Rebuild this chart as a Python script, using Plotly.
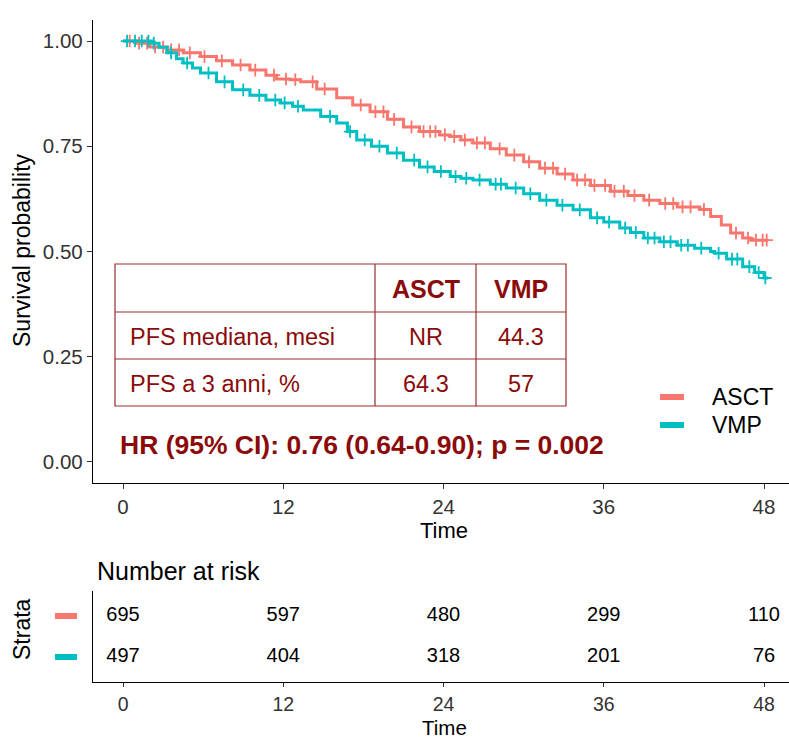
import numpy as np
import plotly.graph_objects as go

# ---------------- data ----------------
arms = ["ASCT", "VMP"]
colors = {"ASCT": "#F8766D", "VMP": "#00BFC4"}

asct_t = [0, 1.0, 2.0, 3.3, 4.5, 5.8, 7.0, 8.2, 9.5, 10.7, 11.5, 12.5, 13.3, 14.5, 16.0, 17.2,
          18.5, 19.8, 21.0, 22.2, 23.7, 24.5, 25.3, 26.2, 27.5, 28.7, 30.0, 31.2, 32.5, 33.7,
          35.0, 36.5, 37.8, 39.0, 40.2, 41.5, 43.2, 44.0, 44.8, 45.5, 46.4, 47.0, 48.3]
asct_s = [1.000, 0.995, 0.986, 0.979, 0.972, 0.963, 0.953, 0.943, 0.931, 0.919, 0.910, 0.908,
          0.903, 0.886, 0.865, 0.848, 0.832, 0.814, 0.796, 0.785, 0.777, 0.773, 0.765, 0.758,
          0.744, 0.729, 0.713, 0.698, 0.684, 0.670, 0.657, 0.643, 0.633, 0.622, 0.614, 0.606,
          0.600, 0.583, 0.563, 0.544, 0.532, 0.527, 0.527]

vmp_t = [0, 2.2, 2.7, 3.3, 4.0, 4.5, 5.2, 5.8, 7.0, 8.2, 9.5, 10.7, 11.8, 12.7, 13.5, 14.8,
         16.0, 16.8, 17.5, 18.6, 19.8, 21.0, 22.2, 23.3, 24.5, 25.3, 26.2, 27.5, 28.7, 30.0,
         31.2, 32.5, 33.7, 35.0, 36.0, 37.2, 38.0, 39.0, 40.2, 41.5, 42.8, 44.0, 44.3, 45.2,
         46.4, 47.3, 48.0, 48.3]
vmp_s = [1.000, 0.995, 0.985, 0.972, 0.958, 0.948, 0.936, 0.924, 0.903, 0.884, 0.871, 0.860,
         0.853, 0.845, 0.836, 0.821, 0.805, 0.785, 0.765, 0.750, 0.734, 0.717, 0.701, 0.690,
         0.678, 0.674, 0.670, 0.660, 0.651, 0.637, 0.622, 0.610, 0.599, 0.580, 0.570, 0.556,
         0.545, 0.532, 0.523, 0.515, 0.508, 0.500, 0.496, 0.482, 0.464, 0.450, 0.437, 0.437]

asct_cens = [0.5, 1.2, 1.8, 2.4, 3.0, 3.6, 4.2, 5.0, 6.1, 7.4, 8.8, 9.9, 11.3, 12.2, 12.9, 14.2,
             15.1, 17.8, 18.9, 19.5, 20.3, 21.6, 22.5, 23.0, 23.4, 24.1, 24.8, 25.6, 26.5, 27.1,
             28.2, 29.3, 30.4, 31.6, 32.2, 33.1, 34.0, 34.6, 35.3, 36.1, 36.8, 37.5, 38.3, 39.4,
             40.6, 41.2, 41.9, 42.5, 43.5, 45.9, 46.8, 47.4, 47.9, 48.2]
vmp_cens = [0.3, 0.9, 1.4, 1.9, 2.3, 3.6, 4.8, 6.4, 7.6, 9.0, 10.2, 11.4, 12.1, 13.1, 15.5, 17.0,
            18.1, 19.2, 20.5, 21.8, 22.8, 23.8, 24.9, 25.7, 26.7, 27.9, 28.3, 29.4, 30.5, 31.7,
            32.9, 34.2, 35.5, 36.4, 37.6, 38.4, 39.3, 39.8, 40.5, 41.0, 41.8, 42.3, 43.3, 44.6,
            45.6, 46.0, 46.9, 47.6, 48.1]

risk_times = [0, 12, 24, 36, 48]
risk_asct = [695, 597, 480, 299, 110]
risk_vmp = [497, 404, 318, 201, 76]

x_ticks = [0, 12, 24, 36, 48]
y_ticks = [0, 0.25, 0.5, 0.75, 1.0]
y_ticktext = ["0.00", "0.25", "0.50", "0.75", "1.00"]

tbl_header = ["", "ASCT", "VMP"]
tbl_rows = [["PFS mediana, mesi", "NR", "44.3"],
            ["PFS a 3 anni, %", "64.3", "57"]]
hr_text = "HR (95% CI): 0.76 (0.64-0.90); p = 0.002"

# ---------------- figure ----------------
W, H = 789, 740
FONT = "Liberation Sans, Arial, sans-serif"
RED = "#8B0A0A"


def px(x):
    return x / W


def py(y):
    return 1 - y / H


def step_at(ts, ss, t):
    ts = np.asarray(ts)
    ss = np.asarray(ss)
    idx = np.searchsorted(ts, t, side="right") - 1
    return ss[idx]


fig = go.Figure()
series = {"ASCT": (asct_t, asct_s, asct_cens), "VMP": (vmp_t, vmp_s, vmp_cens)}
for arm in arms:
    t, s, c = series[arm]
    fig.add_trace(go.Scatter(x=t, y=s, mode="lines", line=dict(color=colors[arm], width=3, shape="hv"),
                             name=arm, showlegend=False, xaxis="x", yaxis="y"))
    fig.add_trace(go.Scatter(x=c, y=step_at(t, s, c), mode="markers",
                             marker=dict(symbol="cross-thin", size=9, line=dict(color=colors[arm], width=1.8)),
                             showlegend=False, xaxis="x", yaxis="y"))

# risk table numbers
for arm, vals, lvl in [("ASCT", risk_asct, 2), ("VMP", risk_vmp, 1)]:
    fig.add_trace(go.Scatter(x=risk_times, y=[lvl] * len(risk_times), mode="text",
                             text=[str(v) for v in vals],
                             textfont=dict(family=FONT, size=20, color="black"),
                             showlegend=False, xaxis="x2", yaxis="y2", hoverinfo="skip"))

xdom = [px(93), 1.0]
xr = [-2.25, 49.87]
axis_common = dict(showline=True, linecolor="black", linewidth=1.3, ticks="outside", ticklen=5,
                   tickcolor="#333333", tickwidth=1.2, showgrid=False, zeroline=False,
                   tickfont=dict(family=FONT, size=20.5, color="#333333"), automargin=False)
axis_risk = dict(axis_common)
axis_risk.update(ticklen=4, tickfont=dict(family=FONT, size=19.5, color="#333333"))

fig.update_layout(
    width=W, height=H, margin=dict(l=0, r=0, t=0, b=0),
    paper_bgcolor="white", plot_bgcolor="white", showlegend=False,
    xaxis=dict(domain=xdom, range=xr, tickvals=x_ticks, anchor="y", **axis_common),
    yaxis=dict(domain=[py(483), py(20)], range=[-0.05, 1.05], tickvals=y_ticks, ticktext=y_ticktext,
               anchor="x", **axis_common),
    xaxis2=dict(domain=xdom, range=xr, tickvals=x_ticks, anchor="y2", **axis_risk),
    yaxis2=dict(domain=[py(682), py(591)], range=[0.4, 2.6], anchor="x2", showline=True,
                linecolor="black", linewidth=1.3, showticklabels=False, ticks="", showgrid=False,
                zeroline=False, automargin=False),
)

ann = []
shapes = []


def text_at(x, y, text, size, color="black", xanchor="center", angle=0):
    ann.append(dict(x=px(x), y=py(y), xref="paper", yref="paper", text=text, showarrow=False,
                    xanchor=xanchor, yanchor="middle", textangle=angle,
                    font=dict(family=FONT, size=size, color=color)))


# axis titles
text_at(22, 250, "Survival probability", 23, angle=-90)
text_at(444, 530, "Time", 22)
text_at(95, 571, "Number at risk", 25, xanchor="left")
text_at(22, 629, "Strata", 23, angle=-90)
text_at(444, 727.5, "Time", 20.5)

# strata colour keys
for arm, yc in [("ASCT", 616), ("VMP", 657)]:
    shapes.append(dict(type="rect", xref="paper", yref="paper", x0=px(55), x1=px(77),
                       y0=py(yc + 3), y1=py(yc - 3), fillcolor=colors[arm], line=dict(width=0)))

# legend
for arm, yc in [("ASCT", 397), ("VMP", 425)]:
    shapes.append(dict(type="rect", xref="paper", yref="paper", x0=px(660), x1=px(684),
                       y0=py(yc + 3), y1=py(yc - 3), fillcolor=colors[arm], line=dict(width=0)))
    text_at(710, yc, arm, 23, xanchor="left")

# inset table
col_x = [115, 375, 476, 566]
row_y = [264, 312, 359, 406]
lc = "#9B2C2C"
shapes.append(dict(type="rect", xref="paper", yref="paper", x0=px(col_x[0]), x1=px(col_x[-1]),
                   y0=py(row_y[-1]), y1=py(row_y[0]), line=dict(color=lc, width=1.2),
                   fillcolor="white", layer="above"))
for xv in col_x[1:-1]:
    shapes.append(dict(type="line", xref="paper", yref="paper", x0=px(xv), x1=px(xv),
                       y0=py(row_y[-1]), y1=py(row_y[0]), line=dict(color=lc, width=1.2)))
for yv in row_y[1:-1]:
    shapes.append(dict(type="line", xref="paper", yref="paper", x0=px(col_x[0]), x1=px(col_x[-1]),
                       y0=py(yv), y1=py(yv), line=dict(color=lc, width=1.2)))

all_rows = [tbl_header] + tbl_rows
for ri, row in enumerate(all_rows):
    yc = (row_y[ri] + row_y[ri + 1]) / 2 + 1
    for ci, cell in enumerate(row):
        if not cell:
            continue
        if ci == 0:
            xpos, xa = col_x[0] + 13, "left"
        else:
            xpos, xa = (col_x[ci] + col_x[ci + 1]) / 2, "center"
        txt = f"<b>{cell}</b>" if ri == 0 else cell
        text_at(xpos, yc, txt, 25 if ri == 0 else 23.5, color=RED, xanchor=xa)

text_at(118, 445, f"<b>{hr_text}</b>", 26.5, color=RED, xanchor="left")

fig.update_layout(annotations=ann, shapes=shapes)
fig.write_html("out.html")
